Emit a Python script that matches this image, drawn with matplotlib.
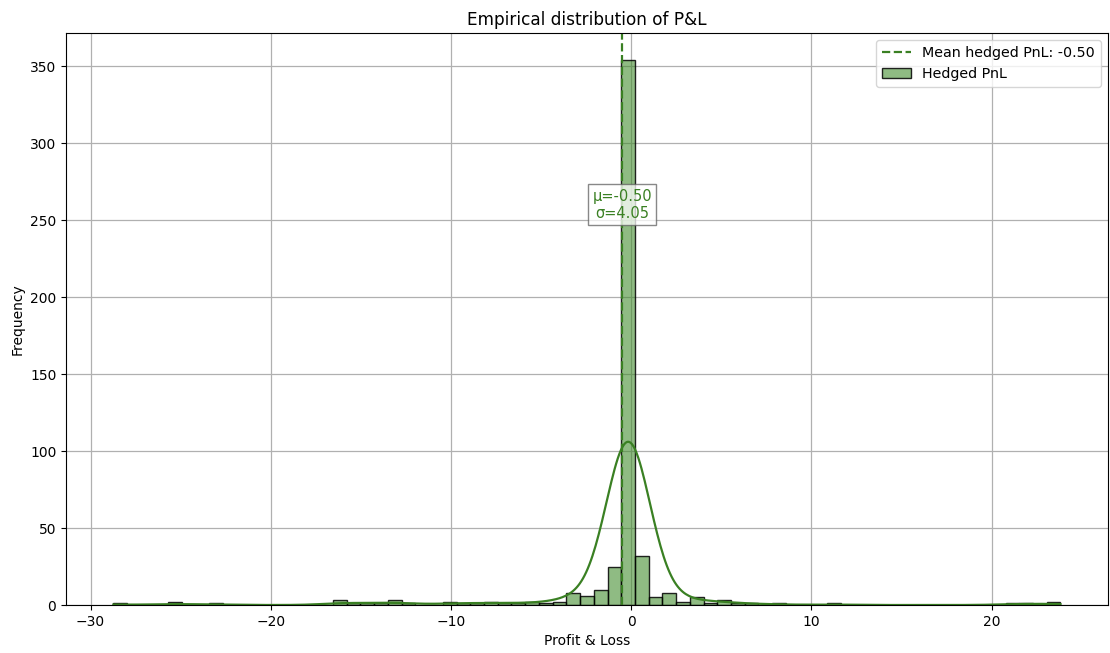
import numpy as np
import matplotlib
matplotlib.use("Agg")
import matplotlib.pyplot as plt
from matplotlib.colors import to_rgba

# ---- data ----
bin_start = -28.73
bin_end = 23.82
n_bins = 69
counts = [1, 0, 0, 0, 2, 0, 0, 1, 0, 0,
          0, 0, 0, 0, 0, 0, 3, 1, 1, 1,
          3, 1, 0, 0, 2, 1, 1, 2, 1, 1,
          2, 1, 2, 8, 6, 10, 25, 354, 32, 5,
          8, 2, 5, 1, 3, 1, 1, 0, 1, 0,
          0, 0, 1, 0, 0, 0, 0, 0, 0, 0,
          0, 0, 0, 0, 0, 1, 1, 0, 2]
mean_pnl = -0.50
std_pnl = 4.05

title = "Empirical distribution of P&L"
xlabel = "Profit & Loss"
ylabel = "Frequency"
mean_label = f"Mean hedged PnL: {mean_pnl:.2f}"
hist_label = "Hedged PnL"

line_color = "#3a8023"
bar_color = "#3f8a2a"

edges = np.linspace(bin_start, bin_end, n_bins + 1)
centers = 0.5 * (edges[:-1] + edges[1:])
w = np.asarray(counts, dtype=float)
binw = edges[1] - edges[0]

fig = plt.figure(figsize=(11.1, 6.53), dpi=100)
ax = fig.add_axes([0.0595, 0.0735, 0.9385, 0.876])
ax.set_axisbelow(True)
ax.grid(True, color="#b0b0b0", linewidth=0.9)

_, _, bars = ax.hist(centers, bins=edges, weights=w,
                     facecolor=to_rgba(bar_color, 0.58),
                     edgecolor=(0, 0, 0, 0.85), linewidth=1.0, label=hist_label)

# gaussian KDE (Scott's rule) of the binned sample, scaled to counts
n = w.sum()
bw = std_pnl * n ** (-1 / 5)
grid = np.linspace(bin_start, bin_end, 600)
dens = (w[None, :] * np.exp(-0.5 * ((grid[:, None] - centers[None, :]) / bw) ** 2)).sum(axis=1)
dens = dens / (n * bw * np.sqrt(2 * np.pi))
ax.plot(grid, dens * n * binw, color=line_color, linewidth=1.6)

vline = ax.axvline(mean_pnl, color=line_color, linestyle="--", linewidth=1.6, label=mean_label)

ax.text(mean_pnl, 260, f"μ={mean_pnl:.2f}\nσ={std_pnl:.2f}", ha="center", va="center",
        color=line_color, fontsize=10.5,
        bbox=dict(boxstyle="square,pad=0.3", facecolor="white", edgecolor="#606060", alpha=0.75))

ax.set_xlim(bin_start - 0.05 * (bin_end - bin_start), bin_end + 0.05 * (bin_end - bin_start))
ax.set_ylim(0, max(counts) * 1.05)
ax.set_title(title, fontsize=12.2)
ax.set_xlabel(xlabel, fontsize=10)
ax.set_ylabel(ylabel, fontsize=10)
ax.tick_params(labelsize=10)
ax.legend([vline, bars[0]], [mean_label, hist_label], loc="upper right", fontsize=10.3)

fig.savefig("out.png", dpi=100)
